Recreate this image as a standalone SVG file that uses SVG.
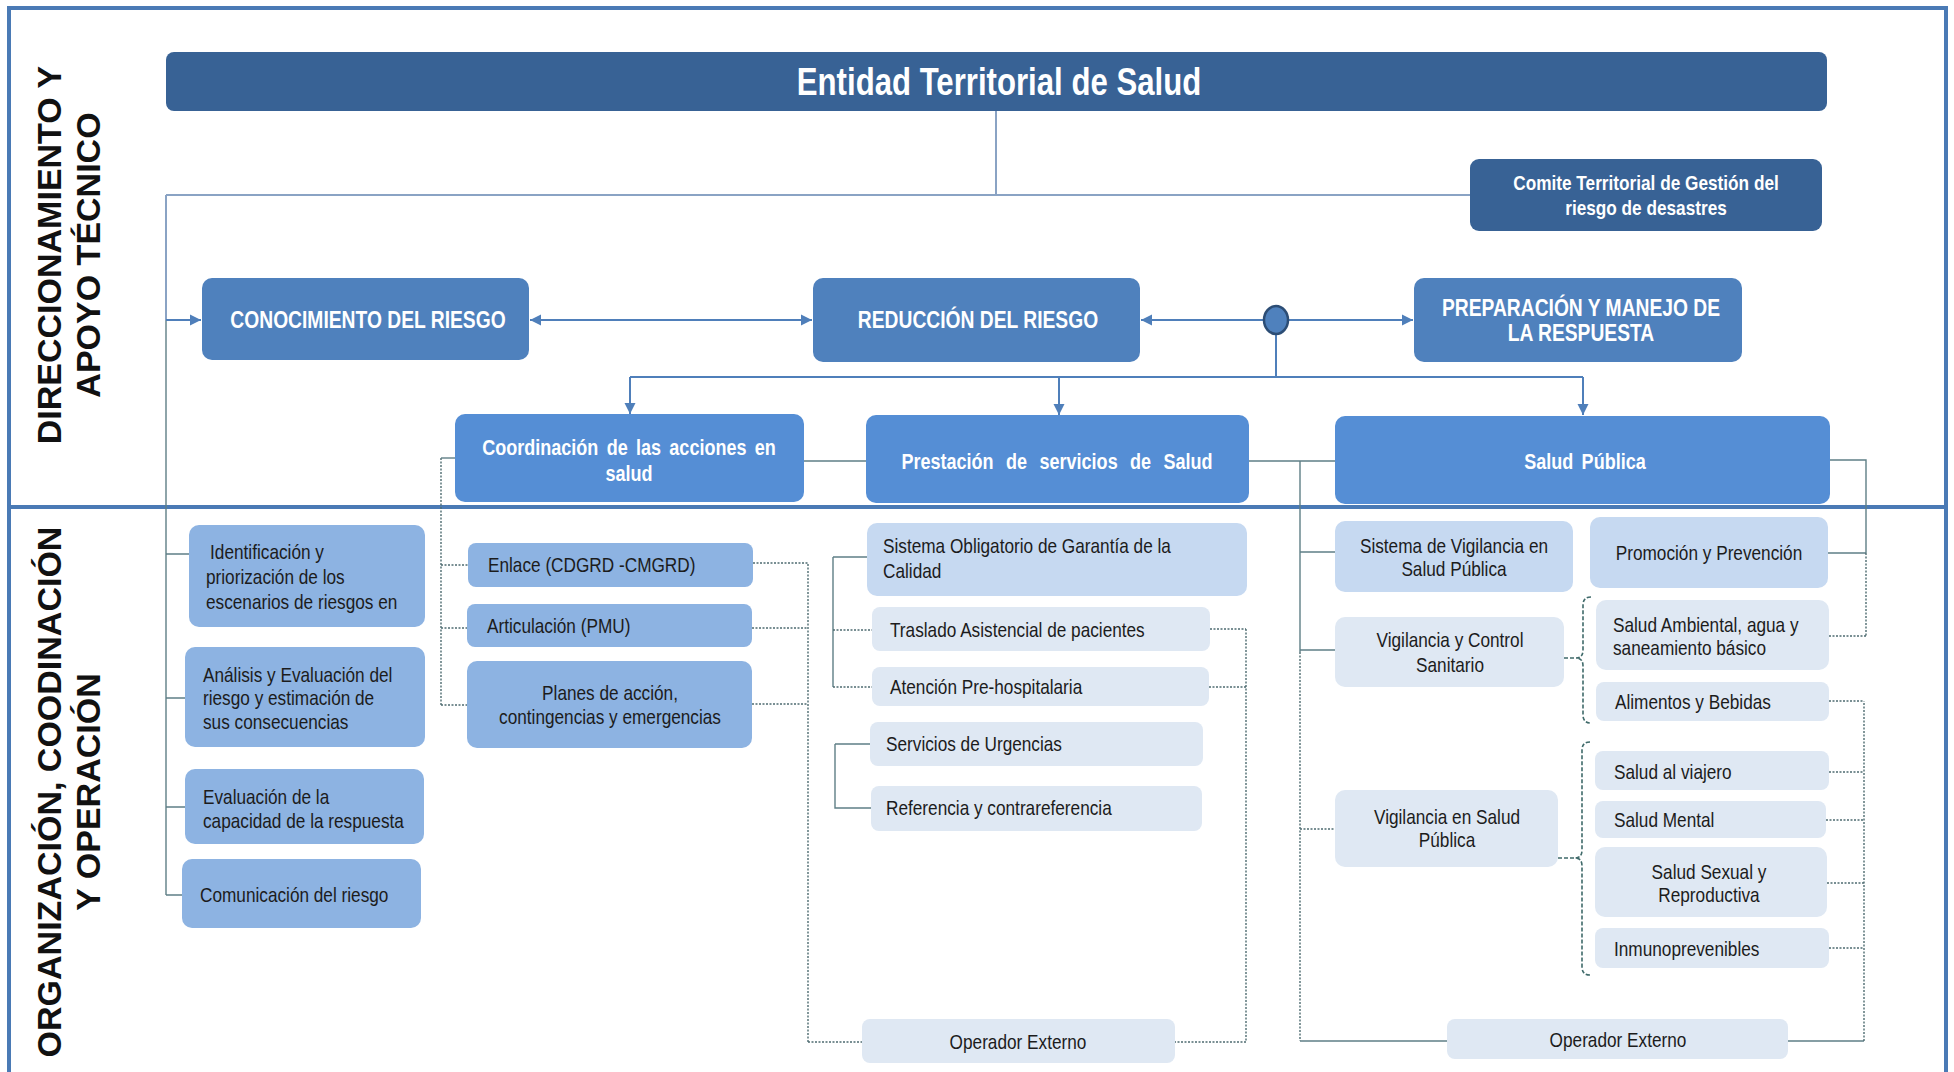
<svg xmlns="http://www.w3.org/2000/svg" width="1954" height="1072" viewBox="0 0 1954 1072">
<defs>
<marker id="arr" viewBox="0 0 10 10" refX="10" refY="5" markerWidth="11" markerHeight="12" markerUnits="userSpaceOnUse" orient="auto-start-reverse">
<path d="M0,0 L10,5 L0,10 z" fill="#4f7fba"/>
</marker>
<style>
.t{font-family:"Liberation Sans Narrow","Arial Narrow","Liberation Sans",Arial,sans-serif;}
.w{fill:#ffffff;font-weight:bold;}
.k{fill:#1c1c1c;font-size:21px;}
.c{text-anchor:middle;}
.side{font-family:"Liberation Sans",Arial,sans-serif;font-weight:bold;font-size:34px;fill:#111;text-anchor:middle;}
.dk{fill:#386295;}
.m1{fill:#4f81bd;}
.m2{fill:#558ed5;}
.lb{fill:#8db3e2;}
.lc{fill:#c6d9f1;}
.ld{fill:#dfe8f3;}
.conn{stroke:#4f7fba;stroke-width:2;fill:none;}
.gl{stroke:#8aa3c4;stroke-width:2;fill:none;}
.sl{stroke:#5f7f86;stroke-width:1.4;fill:none;}
.dl{stroke:#4d6b70;stroke-width:1.4;fill:none;stroke-dasharray:2 1.5;}
.br{stroke:#3f6a6a;stroke-width:1.6;fill:none;stroke-dasharray:4 2;}
</style>
</defs>
<rect x="0" y="0" width="1954" height="1072" fill="#ffffff"/>
<rect x="9" y="8" width="1937" height="1070" fill="none" stroke="#4a7ab5" stroke-width="4"/>
<line x1="9" y1="507" x2="1946" y2="507" stroke="#4a7ab5" stroke-width="4"/>

<text class="side" transform="translate(0,255) rotate(-90)"><tspan x="0" y="61">DIRECCIONAMIENTO Y</tspan><tspan x="0" y="100">APOYO TÉCNICO</tspan></text>
<text class="side" transform="translate(0,792) rotate(-90)"><tspan x="0" y="61">ORGANIZACIÓN, COODINACIÓN</tspan><tspan x="0" y="100">Y OPERACIÓN</tspan></text>

<g id="connectors">
<path class="gl" d="M996,111 V195 M166,195 H1470 M166,195 V320"/>
<path class="sl" d="M166,320 V895 M166,554 H189 M166,698 H185 M166,807 H185 M166,895 H182" stroke="#9fb3c8"/>
<line class="conn" x1="166" y1="320" x2="201" y2="320" marker-end="url(#arr)"/>
<line class="conn" x1="530" y1="320" x2="812" y2="320" marker-start="url(#arr)" marker-end="url(#arr)"/>
<line class="conn" x1="1264" y1="320" x2="1141" y2="320" marker-end="url(#arr)"/>
<line class="conn" x1="1288" y1="320" x2="1413" y2="320" marker-end="url(#arr)"/>
<path class="conn" d="M1276,334 V377 M630,377 H1583"/>
<line class="conn" x1="630" y1="377" x2="630" y2="414" marker-end="url(#arr)"/>
<line class="conn" x1="1059" y1="377" x2="1059" y2="415" marker-end="url(#arr)"/>
<line class="conn" x1="1583" y1="377" x2="1583" y2="415" marker-end="url(#arr)"/>

<path class="sl" d="M804,461 H866 M1249,461 H1335 M1300,461 V652 M1300,552 H1335 M1300,650 H1335"/>
<path class="dl" d="M1300,652 V1041 M1300,829 H1335"/>
<path class="sl" d="M1300,1041 H1447 M1788,1041 H1864"/>
<path class="dl" d="M1864,1041 V701 M1829,701 H1864 M1829,772 H1864 M1826,820 H1864 M1827,883 H1864 M1829,948 H1864"/>
<path class="sl" d="M1830,460 H1866 V553 M1828,553 H1866"/>
<path class="dl" d="M1866,553 V636 M1829,636 H1866"/>

<path class="dl" d="M441,458 V706 M441,565 H468 M441,628 H467 M441,705 H467"/>
<path class="sl" d="M441,458 H455"/>
<path class="dl" d="M753,563 H808 V1042 M752,628 H808 M752,704 H808 M808,1042 H862"/>

<path class="sl" d="M833,557 V687 M833,557 H867"/>
<path class="dl" d="M833,630 H872 M833,687 H872"/>
<path class="sl" d="M835,744 V808 H871 M835,744 H870"/>
<path class="dl" d="M1210,629 H1246 M1209,687 H1246 M1246,629 V1042 H1175"/>

<path class="br" d="M1591,597 Q1583,597 1583,605 V650 Q1583,658 1576,658 Q1583,658 1583,666 V715 Q1583,723 1591,723 M1564,658 H1576"/>
<path class="br" d="M1590,742 Q1582,742 1582,750 V850 Q1582,858 1575,858 Q1582,858 1582,866 V967 Q1582,975 1590,975 M1558,858 H1575"/>
</g>

<g id="n-entidad"><rect class="dk" x="166" y="52" width="1661" height="59" rx="8"/>
<text class="t w c" transform="translate(999,0) scale(0.82,1)" x="0" y="95" font-size="38">Entidad Territorial de Salud</text></g>

<g id="n-comite"><rect class="dk" x="1470" y="159" width="352" height="72" rx="9"/>
<text class="t w c" transform="translate(1646,0) scale(0.82,1)" font-size="21"><tspan x="0" y="190">Comite  Territorial de Gestión del</tspan><tspan x="0" y="215">riesgo de desastres</tspan></text></g>

<g id="n-conocimiento"><rect class="m1" x="202" y="278" width="327" height="82" rx="10"/>
<text class="t w c" transform="translate(368,0) scale(0.82,1)" x="0" y="328" font-size="23.5">CONOCIMIENTO DEL RIESGO</text></g>

<g id="n-reduccion"><rect class="m1" x="813" y="278" width="327" height="84" rx="10"/>
<text class="t w c" transform="translate(978,0) scale(0.82,1)" x="0" y="328" font-size="23.5">REDUCCIÓN DEL RIESGO</text></g>

<g id="n-circle"><ellipse cx="1276" cy="320" rx="12" ry="14" fill="#4f81bd" stroke="#2c4d75" stroke-width="2.5"/></g>

<g id="n-preparacion"><rect class="m1" x="1414" y="278" width="328" height="84" rx="10"/>
<text class="t w c" transform="translate(1581,0) scale(0.82,1)" font-size="23.5"><tspan x="0" y="316">PREPARACIÓN Y MANEJO  DE</tspan><tspan x="0" y="341">LA RESPUESTA</tspan></text></g>

<g id="n-coordinacion"><rect class="m2" x="455" y="414" width="349" height="88" rx="10"/>
<text class="t w c" transform="translate(629,0) scale(0.82,1)" font-size="22" word-spacing="4"><tspan x="0" y="455">Coordinación de las acciones en</tspan><tspan x="0" y="481">salud</tspan></text></g>

<g id="n-prestacion"><rect class="m2" x="866" y="415" width="383" height="88" rx="10"/>
<text class="t w c" transform="translate(1057,0) scale(0.82,1)" x="0" y="469" font-size="22" word-spacing="9">Prestación de servicios de Salud</text></g>

<g id="n-saludpublica"><rect class="m2" x="1335" y="416" width="495" height="88" rx="10"/>
<text class="t w c" transform="translate(1585,0) scale(0.82,1)" x="0" y="469" font-size="22" word-spacing="4">Salud Pública</text></g>

<g id="n-identificacion"><rect class="lb" x="189" y="525" width="236" height="102" rx="10"/>
<text class="t k" transform="translate(206,0) scale(0.82,1)"><tspan x="5" y="559">Identificación  y</tspan><tspan x="0" y="584">priorización de los</tspan><tspan x="0" y="609">escenarios de riesgos en</tspan></text></g>

<g id="n-analisis"><rect class="lb" x="185" y="647" width="240" height="100" rx="10"/>
<text class="t k" transform="translate(203,0) scale(0.82,1)"><tspan x="0" y="682">Análisis y Evaluación del</tspan><tspan x="0" y="705">riesgo y estimación de</tspan><tspan x="0" y="729">sus consecuencias</tspan></text></g>

<g id="n-evaluacion"><rect class="lb" x="185" y="769" width="239" height="75" rx="10"/>
<text class="t k" transform="translate(203,0) scale(0.82,1)"><tspan x="0" y="804">Evaluación  de la</tspan><tspan x="0" y="828">capacidad de la respuesta</tspan></text></g>

<g id="n-comunicacion"><rect class="lb" x="182" y="859" width="239" height="69" rx="10"/>
<text class="t k" transform="translate(200,0) scale(0.82,1)" x="0" y="902">Comunicación del riesgo</text></g>

<g id="n-enlace"><rect class="lb" x="468" y="543" width="285" height="44" rx="8"/>
<text class="t k" transform="translate(488,0) scale(0.82,1)" x="0" y="572">Enlace  (CDGRD -CMGRD)</text></g>

<g id="n-articulacion"><rect class="lb" x="467" y="604" width="285" height="43" rx="8"/>
<text class="t k" transform="translate(487,0) scale(0.82,1)" x="0" y="633">Articulación  (PMU)</text></g>

<g id="n-planes"><rect class="lb" x="467" y="661" width="285" height="87" rx="10"/>
<text class="t k c" transform="translate(610,0) scale(0.82,1)"><tspan x="0" y="700">Planes de acción,</tspan><tspan x="0" y="724">contingencias y emergencias</tspan></text></g>

<g id="n-sogc"><rect class="lc" x="867" y="523" width="380" height="73" rx="10"/>
<text class="t k" transform="translate(883,0) scale(0.82,1)"><tspan x="0" y="553">Sistema Obligatorio  de Garantía de la</tspan><tspan x="0" y="578">Calidad</tspan></text></g>

<g id="n-traslado"><rect class="ld" x="872" y="607" width="338" height="44" rx="8"/>
<text class="t k" transform="translate(890,0) scale(0.82,1)" x="0" y="637">Traslado  Asistencial de pacientes</text></g>

<g id="n-aph"><rect class="ld" x="872" y="667" width="337" height="39" rx="8"/>
<text class="t k" transform="translate(890,0) scale(0.82,1)" x="0" y="694">Atención  Pre-hospitalaria</text></g>

<g id="n-urgencias"><rect class="ld" x="870" y="722" width="333" height="44" rx="8"/>
<text class="t k" transform="translate(886,0) scale(0.82,1)" x="0" y="751">Servicios de Urgencias</text></g>

<g id="n-referencia"><rect class="ld" x="871" y="786" width="331" height="45" rx="8"/>
<text class="t k" transform="translate(886,0) scale(0.82,1)" x="0" y="815">Referencia y contrareferencia</text></g>

<g id="n-operador1"><rect class="ld" x="862" y="1019" width="313" height="44" rx="8"/>
<text class="t k c" transform="translate(1018,0) scale(0.82,1)" x="0" y="1049" font-size="23">Operador Externo</text></g>

<g id="n-sivigila"><rect class="lc" x="1335" y="521" width="238" height="71" rx="10"/>
<text class="t k c" transform="translate(1454,0) scale(0.82,1)"><tspan x="0" y="553">Sistema de Vigilancia  en</tspan><tspan x="0" y="576">Salud  Pública</tspan></text></g>

<g id="n-promocion"><rect class="lc" x="1590" y="517" width="238" height="71" rx="10"/>
<text class="t k c" transform="translate(1709,0) scale(0.82,1)" x="0" y="560">Promoción y Prevención</text></g>

<g id="n-vigcontrol"><rect class="ld" x="1335" y="617" width="229" height="70" rx="10"/>
<text class="t k c" transform="translate(1450,0) scale(0.82,1)"><tspan x="0" y="647">Vigilancia  y Control</tspan><tspan x="0" y="672">Sanitario</tspan></text></g>

<g id="n-ambiental"><rect class="ld" x="1596" y="600" width="233" height="70" rx="10"/>
<text class="t k" transform="translate(1613,0) scale(0.82,1)"><tspan x="0" y="632">Salud Ambiental, agua y</tspan><tspan x="0" y="655">saneamiento básico</tspan></text></g>

<g id="n-alimentos"><rect class="ld" x="1596" y="682" width="233" height="39" rx="8"/>
<text class="t k" transform="translate(1615,0) scale(0.82,1)" x="0" y="709">Alimentos y Bebidas</text></g>

<g id="n-vigsp"><rect class="ld" x="1335" y="790" width="223" height="77" rx="10"/>
<text class="t k c" transform="translate(1447,0) scale(0.82,1)"><tspan x="0" y="824">Vigilancia  en Salud</tspan><tspan x="0" y="847">Pública</tspan></text></g>

<g id="n-viajero"><rect class="ld" x="1595" y="751" width="234" height="39" rx="8"/>
<text class="t k" transform="translate(1614,0) scale(0.82,1)" x="0" y="779">Salud al viajero</text></g>

<g id="n-mental"><rect class="ld" x="1595" y="801" width="231" height="37" rx="8"/>
<text class="t k" transform="translate(1614,0) scale(0.82,1)" x="0" y="827">Salud Mental</text></g>

<g id="n-sexual"><rect class="ld" x="1595" y="847" width="232" height="70" rx="10"/>
<text class="t k c" transform="translate(1709,0) scale(0.82,1)"><tspan x="0" y="879">Salud Sexual y</tspan><tspan x="0" y="902">Reproductiva</tspan></text></g>

<g id="n-inmuno"><rect class="ld" x="1595" y="928" width="234" height="40" rx="8"/>
<text class="t k" transform="translate(1614,0) scale(0.82,1)" x="0" y="956">Inmunoprevenibles</text></g>

<g id="n-operador2"><rect class="ld" x="1447" y="1019" width="341" height="40" rx="8"/>
<text class="t k c" transform="translate(1618,0) scale(0.82,1)" x="0" y="1047" font-size="23">Operador Externo</text></g>
</svg>
